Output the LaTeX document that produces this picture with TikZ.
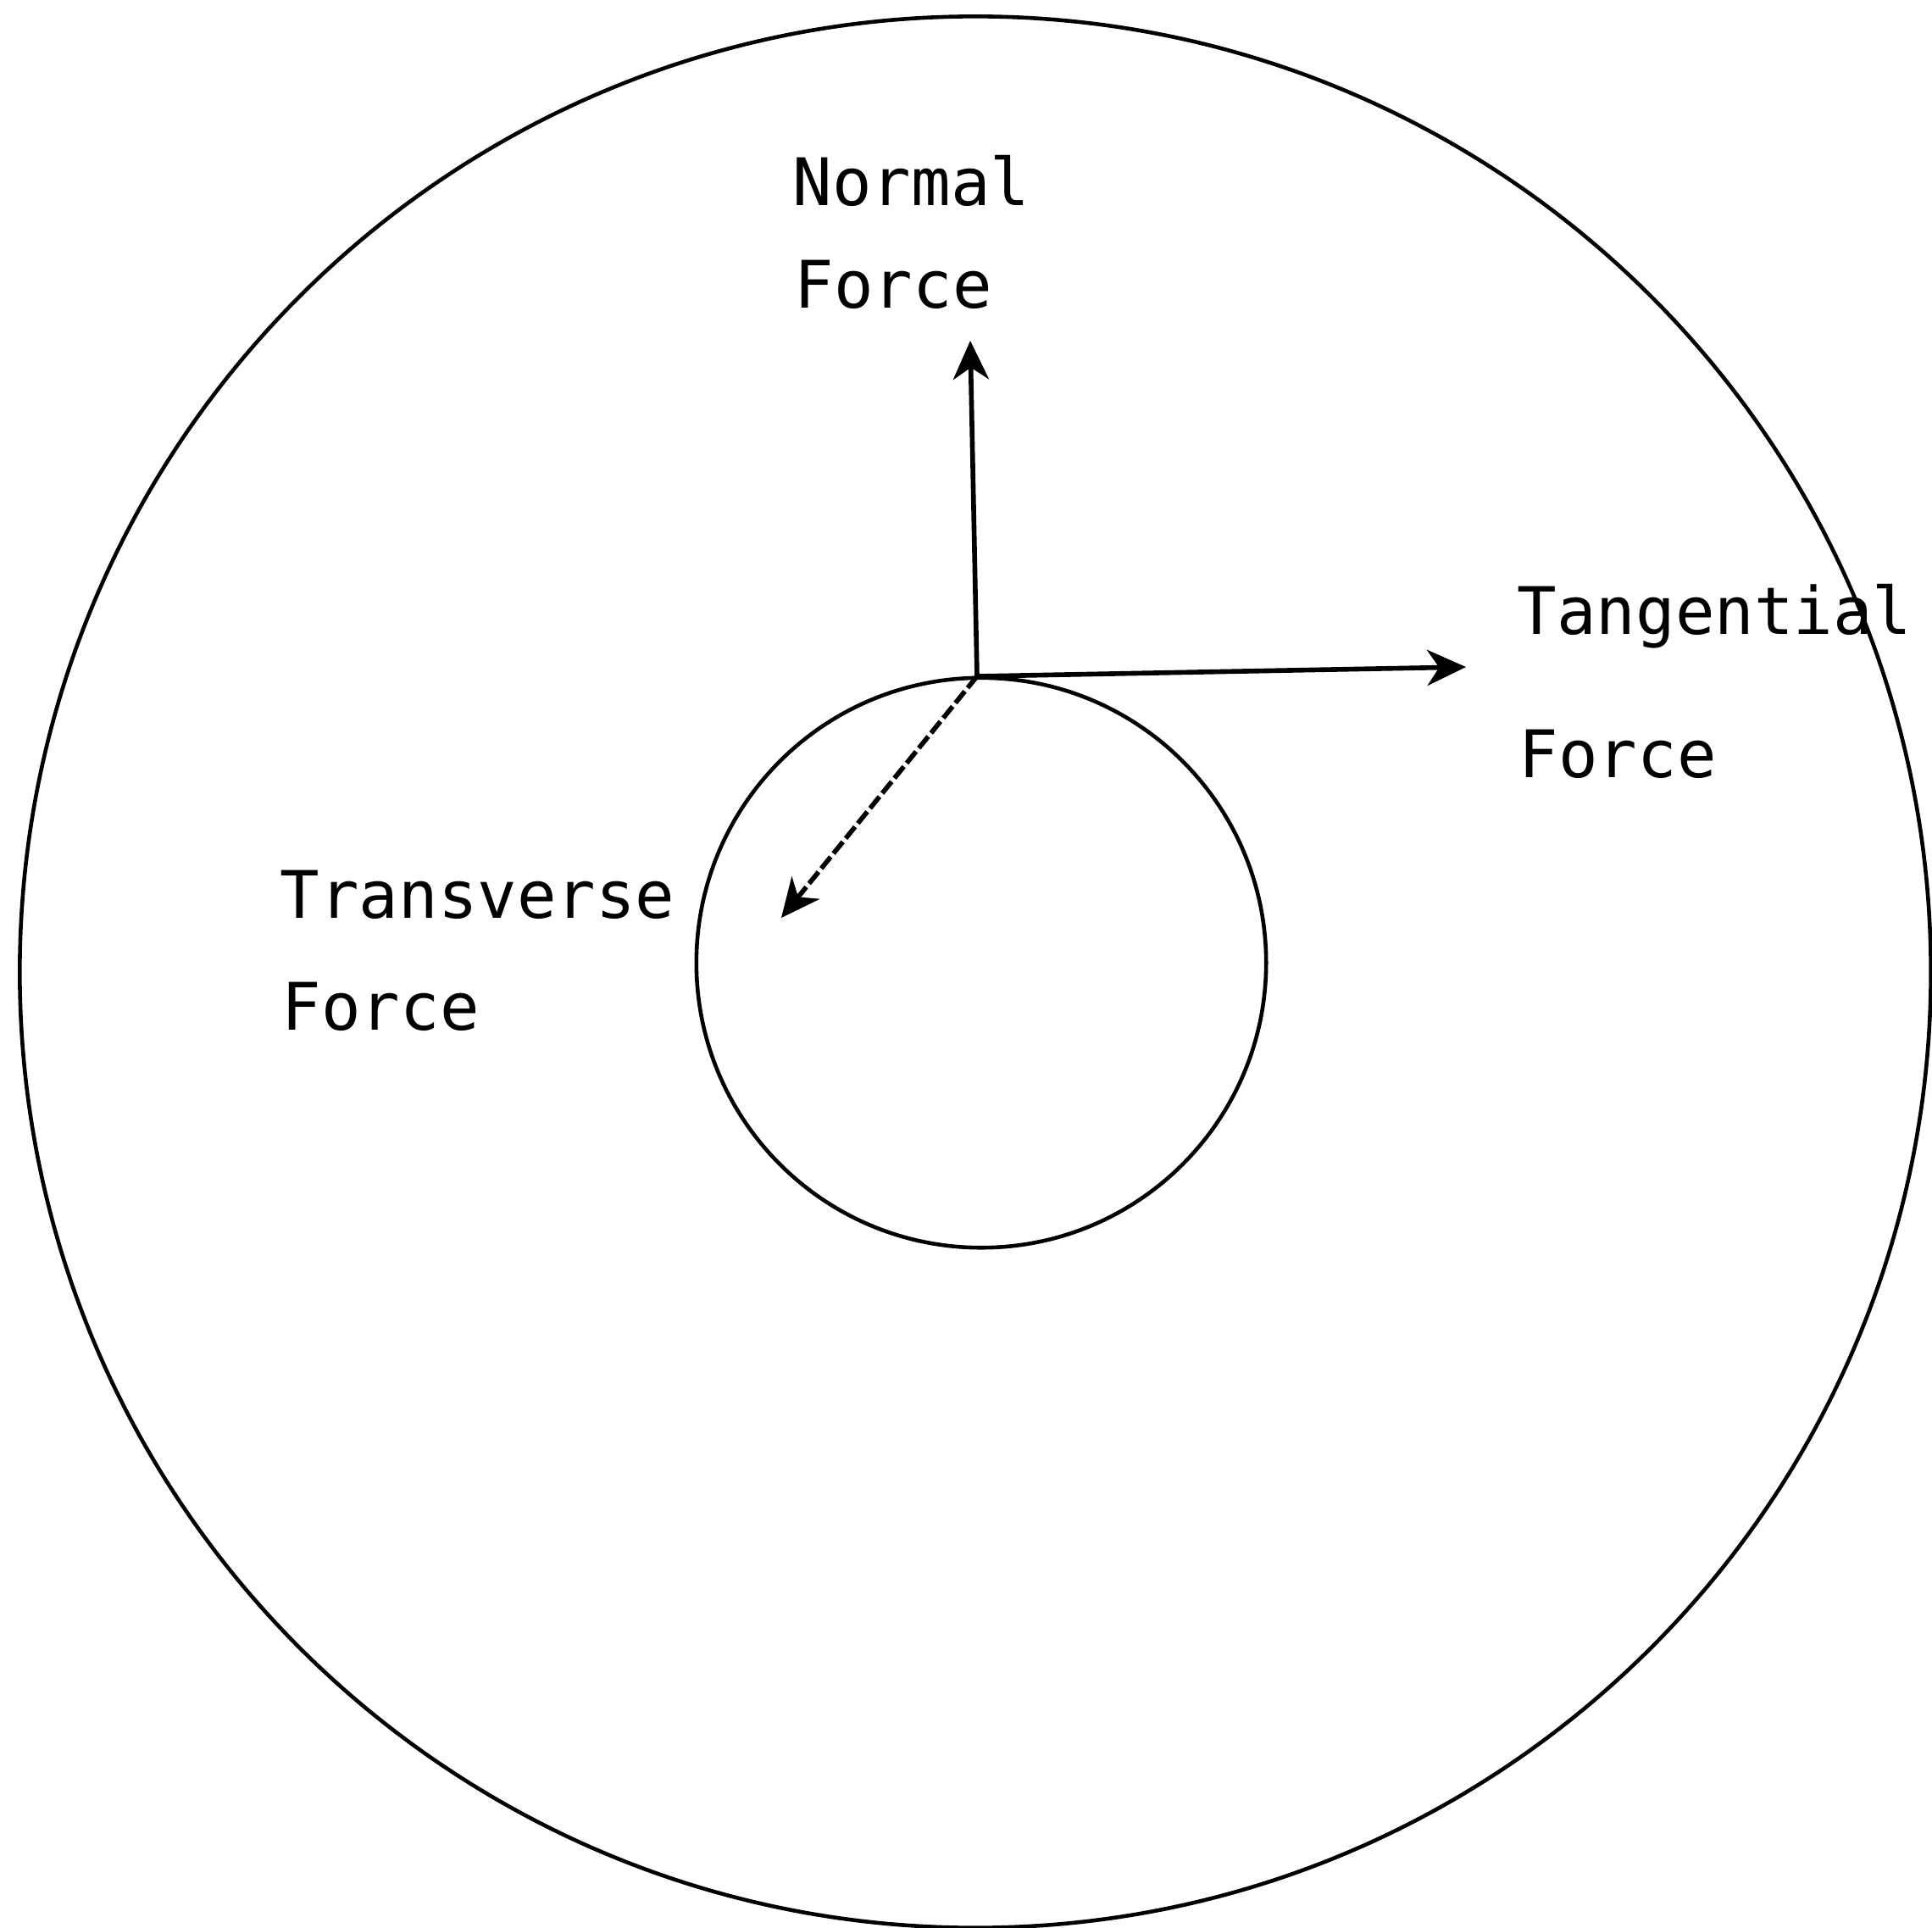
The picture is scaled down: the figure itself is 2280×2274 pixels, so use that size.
\documentclass[tikz,border=0pt]{standalone}
\usepackage{fontspec}
\newfontfamily\plotfont{DejaVu Sans Mono}
\usepackage{tikz}
\usetikzlibrary{arrows.meta,positioning}

\begin{document}
\begin{tikzpicture}[x=0.01cm, y=-0.01cm,
				ring/.style={draw, circle, inner sep=0pt, line width=1.3pt},
				lbl/.style={anchor=base west, inner sep=0pt, font=\plotfont\fontsize{22}{26}\selectfont},
				force/.style={->, line width=1.6pt},
				>={Stealth[length=13pt,width=12pt,inset=4pt]}]
				\useasboundingbox (0,0) rectangle (2280,2274);
				\node[ring, minimum size=22.54cm] (outer) at (1151,1147) {};
				\node[ring, minimum size=6.72cm]  (inner) at (1158,1136) {};
				\coordinate (p)    at (1153,798);
				\coordinate (ntip) at (1145,402);
				\coordinate (ttip) at (1730,787);
				\coordinate (rtip) at (922,1083);
				\draw[force] (p) -- (ntip);
				\draw[force] (p) -- (ttip);
				\draw[force, dash pattern=on 5pt off 1.5pt] (p) -- (rtip);
				\node[lbl] (nrm1) at (935,242)  {Normal};
				\node[lbl] (nrm2) at (937,363)  {Force};
				\node[lbl] (tan1) at (1790,748) {Tangential};
				\node[lbl] (tan2) at (1792,917) {Force};
				\node[lbl] (trv1) at (330,1083) {Transverse};
				\node[lbl] (trv2) at (332,1215) {Force};
			\end{tikzpicture}
\end{document}
